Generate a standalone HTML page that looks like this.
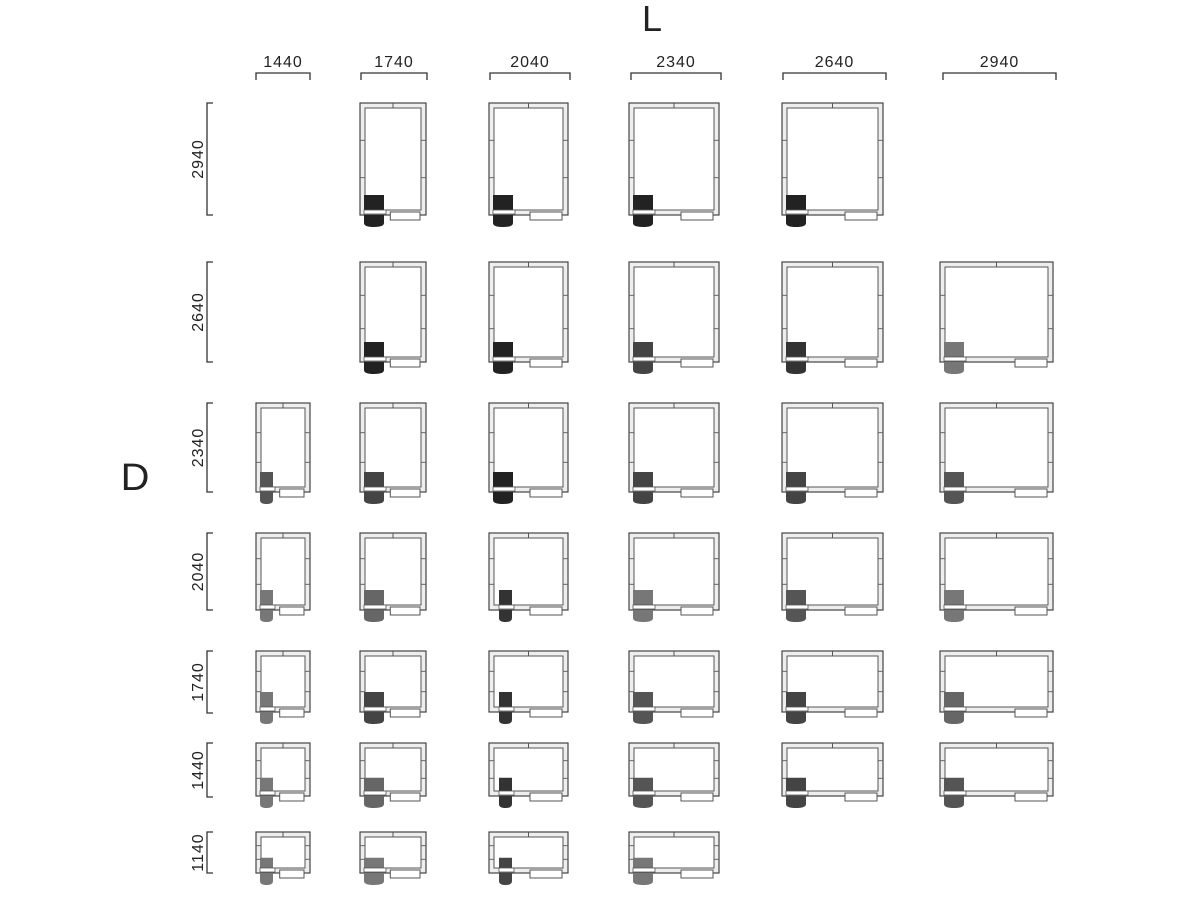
<!DOCTYPE html>
<html><head><meta charset="utf-8"><style>
html,body{margin:0;padding:0;background:#fff;width:1200px;height:900px;overflow:hidden}
svg{display:block}
text{font-family:"Liberation Sans",sans-serif;fill:#222}
</style></head><body>
<svg id="s" width="1200" height="900" viewBox="0 0 1200 900" xmlns="http://www.w3.org/2000/svg">
<text x="652" y="31" font-size="36" text-anchor="middle">L</text>
<text x="135" y="490" font-size="38" text-anchor="middle" transform="translate(135 0) scale(1.05 1) translate(-135 0)">D</text>
</svg>
<script>
var s=document.getElementById('s');
function el(t,a,txt){var e=document.createElementNS('http://www.w3.org/2000/svg',t);for(var k in a)e.setAttribute(k,a[k]);if(txt)e.textContent=txt;s.appendChild(e);return e;}
var cols=[[256,310,'1440'],[360,426,'1740'],[489,568,'2040'],[629,719,'2340'],[782,883,'2640'],[940,1053,'2940']];
var hb=[[256,310],[361,427],[490,570],[631,721],[783,886],[943,1056]];
var rows=[[103,219,215,'2940'],[262,366,362,'2640'],[403,496,492,'2340'],[533,614,610,'2040'],[651,716,713,'1740'],[743,800,797,'1440'],[832,877,873,'1140']];
cols.forEach(function(c,i){var b=hb[i];
 el('text',{x:(b[0]+b[1])/2,y:67,'font-size':16,'text-anchor':'middle','letter-spacing':'1'},c[2]);
 el('path',{d:'M'+b[0]+' 80V73H'+b[1]+'V80',stroke:'#333','stroke-width':1.3,fill:'none'});
});
rows.forEach(function(r){
 el('path',{d:'M213 '+r[0]+'H207V'+r[2]+'H213',stroke:'#333','stroke-width':1.3,fill:'none'});
 var cy=(r[0]+r[2])/2;
 el('text',{x:0,y:0,'font-size':16,'text-anchor':'middle','letter-spacing':'1',transform:'translate(203 '+cy+') rotate(-90)'},r[3]);
});
var present=[
 [0,1,1,1,1,0],[0,1,1,1,1,1],[1,1,1,1,1,1],[1,1,1,1,1,1],[1,1,1,1,1,1],[1,1,1,1,1,1],[1,1,1,1,0,0]];
var shade=[
 ['#222','#222','#222','#222','#222','#222'],
 ['#222','#222','#222','#444','#333','#777'],
 ['#555','#444','#222','#444','#444','#555'],
 ['#777','#666','#333','#777','#555','#777'],
 ['#777','#444','#333','#555','#444','#666'],
 ['#777','#666','#333','#555','#444','#555'],
 ['#777','#777','#444','#777','#777','#777']];
rows.forEach(function(r,ri){cols.forEach(function(c,ci){
 if(!present[ri][ci])return;
 var x=c[0],w=c[1]-c[0],y=r[0],h=r[1]-r[0]-4;
 var t=5;
 el('rect',{x:x,y:y,width:w,height:h,fill:'#eee',stroke:'#444','stroke-width':1.2});
 el('rect',{x:x+t,y:y+t,width:w-2*t,height:h-2*t,fill:'#fff',stroke:'#555','stroke-width':1});
 var mx=x+w/2; el('line',{x1:mx,y1:y,x2:mx,y2:y+t,stroke:'#555'});
 for(var k=1;k<3;k++){var yy=y+h*k/3; el('line',{x1:x,y1:yy,x2:x+t,y2:yy,stroke:'#666'});el('line',{x1:x+w-t,y1:yy,x2:x+w,y2:yy,stroke:'#666'});}
 var sw=Math.min(32,w*0.45);
 el('rect',{x:x+w-t-sw-1,y:y+h-3,width:sw,height:8,fill:'#fff',stroke:'#555','stroke-width':1});
 var tw=(ci==2&&ri>2)?13:(ci==0?13:20);
 var tx=(ci==2&&ri>2)?x+10:x+4;
 var col=shade[ri][ci];
 var th=Math.min(15,h*0.25);
 el('rect',{x:tx,y:y+h-t-th,width:tw,height:th,fill:col});
 el('rect',{x:tx,y:y+h-t,width:tw+2,height:4,fill:'#fff',stroke:'#555','stroke-width':0.8});
 el('path',{d:'M'+tx+' '+(y+h)+'h'+tw+'v8q0 4 -'+(tw/2)+' 4q-'+(tw/2)+' 0 -'+(tw/2)+' -4z',fill:col});
});});
</script>
</body></html>
